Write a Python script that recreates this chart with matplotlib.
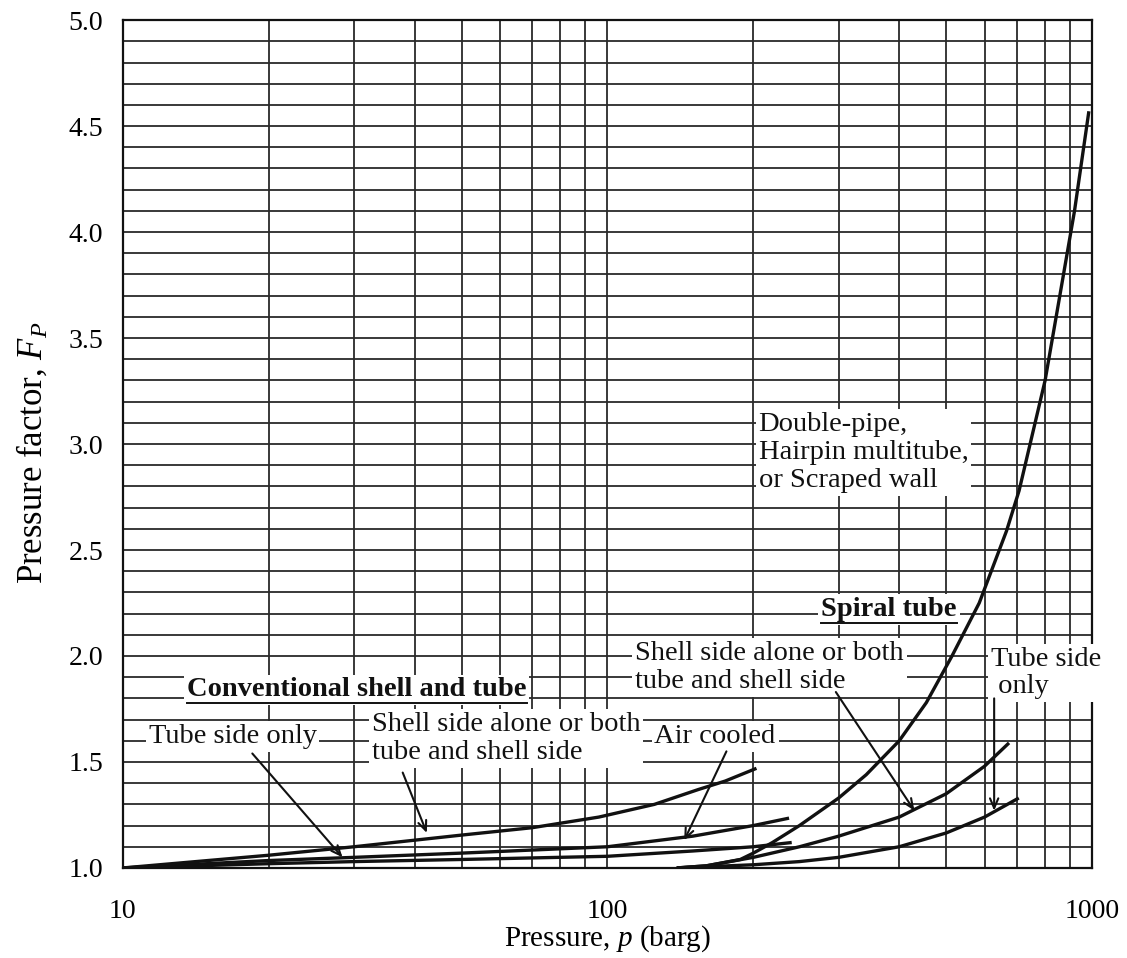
"""Pressure factor F_P versus pressure for heat exchanger types (log x)."""

import matplotlib
matplotlib.use("Agg")
import matplotlib.pyplot as plt
from matplotlib.lines import Line2D
from matplotlib.ticker import FixedLocator, NullFormatter, FixedFormatter

plt.rcParams["font.family"] = ["Liberation Serif", "DejaVu Serif"]
plt.rcParams["mathtext.fontset"] = "custom"
plt.rcParams["mathtext.rm"] = "Liberation Serif"
plt.rcParams["mathtext.it"] = "Liberation Serif:italic"

# --- data: pressure (barg) and pressure factor F_P ---
conv_shell_p = [10, 20, 30, 50, 70, 96, 125, 154, 175, 203]
conv_shell_f = [1.0, 1.06, 1.10, 1.155, 1.19, 1.24, 1.30, 1.37, 1.41, 1.47]

air_cooled_p = [10, 20, 30, 50, 100, 150, 200, 237]
air_cooled_f = [1.0, 1.035, 1.05, 1.07, 1.10, 1.15, 1.20, 1.235]

conv_tube_p = [10, 20, 30, 50, 100, 150, 200, 240]
conv_tube_f = [1.0, 1.02, 1.03, 1.04, 1.055, 1.08, 1.10, 1.12]

spiral_shell_p = [139, 160, 200, 249, 300, 400, 425, 500, 600, 674]
spiral_shell_f = [1.0, 1.01, 1.05, 1.10, 1.15, 1.24, 1.27, 1.35, 1.48, 1.59]

spiral_tube_p = [139, 200, 249, 300, 400, 500, 600, 706]
spiral_tube_f = [1.0, 1.015, 1.03, 1.05, 1.10, 1.165, 1.24, 1.33]

double_pipe_p = [139, 160, 188, 200, 219, 249, 300, 342, 400, 455, 514, 585,
                 666, 707, 800, 855, 920, 985]
double_pipe_f = [1.0, 1.01, 1.04, 1.07, 1.12, 1.20, 1.33, 1.44, 1.60, 1.78, 2.0, 2.25,
                 2.59, 2.78, 3.30, 3.68, 4.10, 4.57]

x_ticks = [10, 100, 1000]
x_tick_labels = ["10", "100", "1000"]
y_ticks = [1.0, 1.5, 2.0, 2.5, 3.0, 3.5, 4.0, 4.5, 5.0]

INK = "#111111"
GRID = "#2a2a2a"

fig = plt.figure(figsize=(11.27, 9.58), dpi=100)
ax = fig.add_axes([0.109, 0.094, 0.860, 0.885])

ax.set_xscale("log")
ax.set_xlim(10, 1000)
ax.set_ylim(1.0, 5.0)

# grid: every 10 on log x, every 0.1 on y
ax.xaxis.set_major_locator(FixedLocator(x_ticks))
ax.xaxis.set_major_formatter(FixedFormatter(x_tick_labels))
ax.xaxis.set_minor_locator(FixedLocator([k * d for d in (10, 100) for k in range(2, 10)]))
ax.xaxis.set_minor_formatter(NullFormatter())
ax.yaxis.set_major_locator(FixedLocator(y_ticks))
ax.yaxis.set_major_formatter(FixedFormatter([f"{v:.1f}" for v in y_ticks]))
ax.yaxis.set_minor_locator(FixedLocator([1.0 + 0.1 * i for i in range(41)]))
ax.grid(True, which="both", color=GRID, linewidth=1.3)
ax.set_axisbelow(True)
ax.tick_params(which="both", length=0)
ax.tick_params(axis="x", pad=22, labelsize=20)
ax.tick_params(axis="y", pad=14, labelsize=20)
for s in ax.spines.values():
    s.set_color(INK)
    s.set_linewidth(1.6)

ax.set_xlabel("Pressure, $p$ (barg)", fontsize=21, labelpad=0)
ax.set_ylabel("Pressure factor, $F_P$", fontsize=25)
ax.yaxis.set_label_coords(-0.075, 0.49)

# --- curves ---
curve_kw = dict(color=INK, linewidth=2.4, solid_capstyle="butt", zorder=3)
for p, f in [(conv_shell_p, conv_shell_f), (air_cooled_p, air_cooled_f),
             (conv_tube_p, conv_tube_f), (spiral_shell_p, spiral_shell_f),
             (spiral_tube_p, spiral_tube_f), (double_pipe_p, double_pipe_f)]:
    ax.plot(p, f, **curve_kw)

# --- labels ---
box = dict(facecolor="white", edgecolor="none", pad=2)
txt_kw = dict(fontsize=20.5, color=INK, bbox=box, zorder=4, linespacing=1.15)

titles = [
    ax.text(30.4, 1.84, "Conventional shell and tube", ha="center", va="center",
            fontweight="bold", **txt_kw),
    ax.text(381, 2.22, "Spiral tube", ha="center", va="center",
            fontweight="bold", **txt_kw),
]
ax.text(11.3, 1.62, "Tube side only", ha="left", va="center", **txt_kw)
ax.text(32.6, 1.61, "Shell side alone or both\ntube and shell side",
        ha="left", va="center", **txt_kw)
ax.text(125, 1.62, "Air cooled", ha="left", va="center", **txt_kw)
ax.text(114, 1.945, "Shell side alone or both\ntube and shell side",
        ha="left", va="center", **txt_kw)
ax.text(619, 1.92, "Tube side\n only", ha="left", va="center", clip_on=False, **txt_kw)
ax.text(205, 2.96, "Double-pipe,\nHairpin multitube,\nor Scraped wall",
        ha="left", va="center", **txt_kw)

# --- arrows (tail -> head) ---
arrows = [
    ((18.5, 1.54), (28.4, 1.05)),
    ((37.8, 1.45), (42.4, 1.165)),
    ((176, 1.55), (144, 1.13)),
    ((296, 1.83), (430, 1.27)),
    ((628, 1.80), (628, 1.27)),
]
for tail, head in arrows:
    ax.annotate("", xy=head, xytext=tail, zorder=5,
                arrowprops=dict(arrowstyle="->,head_length=0.7,head_width=0.3",
                                color=INK, linewidth=1.5, shrinkA=0, shrinkB=0))

# underline the two bold headings
fig.canvas.draw()
inv = fig.transFigure.inverted()
for t in titles:
    bb = t.get_window_extent()
    (x0, y0), (x1, _) = inv.transform([(bb.x0, bb.y0), (bb.x1, bb.y1)])
    fig.add_artist(Line2D([x0, x1], [y0 - 0.001, y0 - 0.001], color=INK,
                          linewidth=1.4, zorder=6))

fig.savefig("out.png", dpi=100)
plt.close(fig)
